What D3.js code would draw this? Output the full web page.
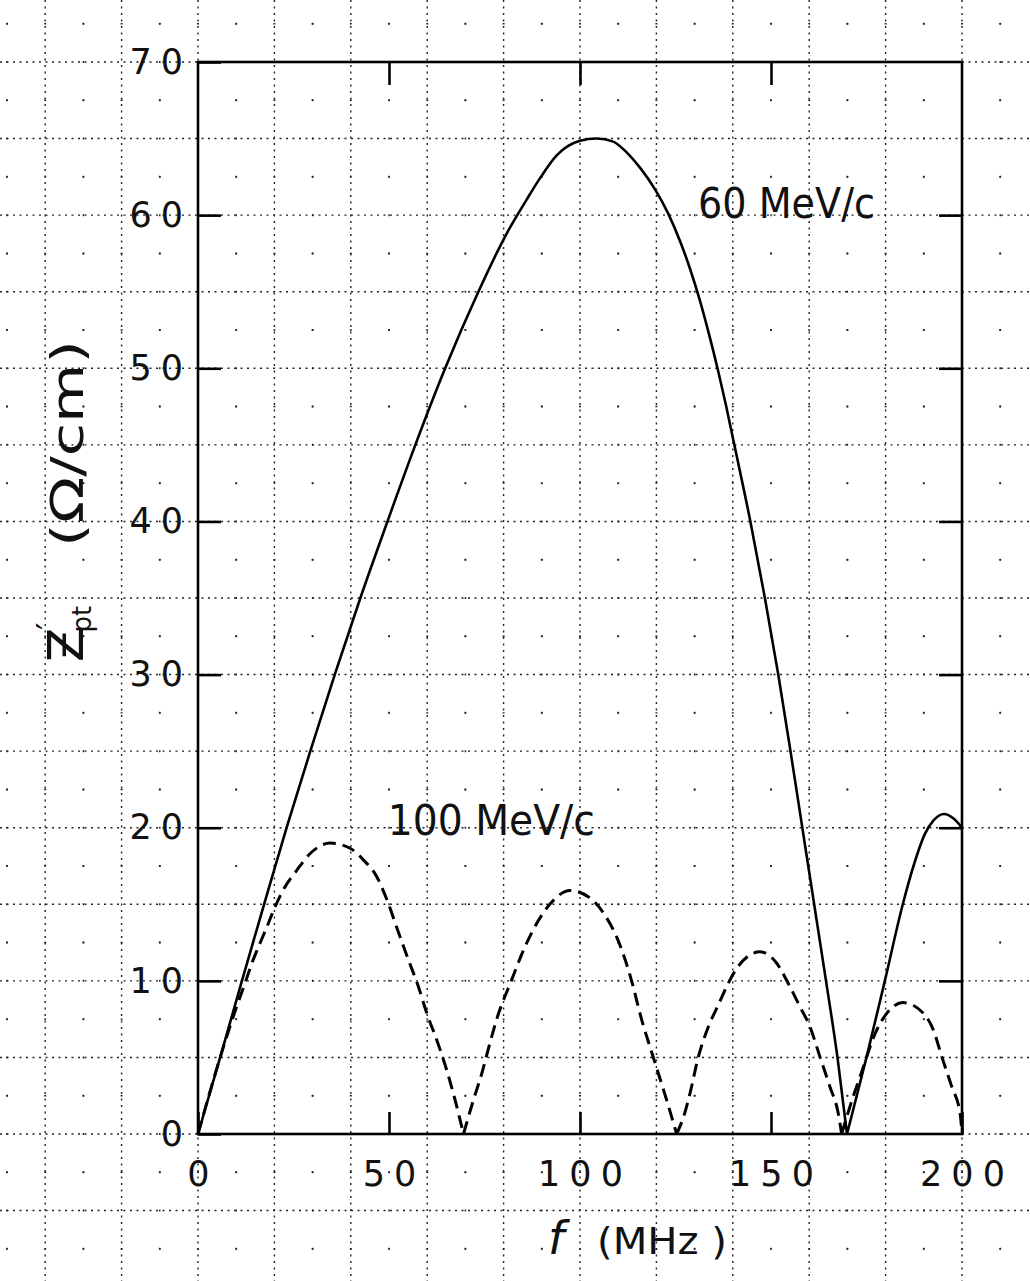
<!DOCTYPE html>
<html>
<head>
<meta charset="utf-8">
<script src="https://cdn.jsdelivr.net/npm/d3@7"></script>
<style>
body { margin: 0; background: #fff; }
svg { display: block; }
text { font-family: "DejaVu Sans", sans-serif; fill: #111; }
</style>
</head>
<body>
<svg id="chart" width="1030" height="1281"></svg>
<script>
// 60 MeV/c  (solid)
var solidFreq = [0, 5.8, 11.5, 17.3, 23.2, 29.4, 35.8, 42.5, 49.6, 56.9, 64.7, 73.4, 80.8, 86, 89.5, 93.9, 100, 104.4,
    108.7, 112.2, 115.7, 119.6, 123.1, 126.2, 128.8, 131.3, 133.7, 136, 138.2, 140.4, 144.6, 148.4, 151.9, 155.1, 158.2, 161.3, 164.4, 167.4, 169.9,
    175, 179.8, 184.5, 187.3, 190.3, 192.6, 195.3, 197.8, 200]
var solidZ = [0, 5, 10, 15, 20, 25, 30, 35, 40, 45, 50, 55, 58.8, 61.0, 62.4, 63.9, 64.85, 65.0,
    64.8, 64.1, 63.1, 61.7, 60.1, 58.3, 56.5, 54.5, 52.3, 50, 47.6, 45, 40, 35, 30, 25, 20, 15, 10, 5, 0,
    5, 10, 15, 17.5, 19.6, 20.5, 20.9, 20.6, 20.0]

// 100 MeV/c  (dashed)
var dashFreq = [0, 5.8, 10.1, 12.3, 14.1, 15.8, 18, 20.2, 22.8, 25.8, 29.3, 34.6, 39.8, 43.3, 46.8, 49.8, 52, 55.1, 57.7, 59.9, 62.5, 65.1, 67.3, 69.5,
    72.1, 74.3, 76.4, 78.2, 82, 86, 92.1, 97.4, 102.4, 106.5, 110.2, 113.4, 116.1, 119.2, 122.7, 125.3,
    127.4, 128.8, 131, 133.6, 136.2, 138.8, 141, 144.5, 147.1, 151.5, 154.5, 157.6, 160.2, 162.8, 165.4, 167.6, 168.5,
    171.5, 173.3, 177.7, 180.3, 184.6, 189.9, 192.5, 194.7, 197.3, 199.5, 200]
var dashZ = [0, 5, 8.3, 9.84, 11.15, 12.2, 13.5, 14.85, 16.15, 17.2, 18.3, 19.0, 18.66, 17.9, 16.8, 15.07, 13.5, 11.36, 9.62, 7.88, 6.14, 4.18, 2.22, 0,
    2.22, 3.96, 5.92, 7.5, 10, 12.45, 15, 15.9, 15.45, 14.3, 12.5, 10.1, 7.5, 5, 2.2, 0,
    1.35, 2.66, 5.05, 7.0, 8.43, 9.84, 10.8, 11.7, 11.9, 11.15, 9.84, 8.3, 7.0, 5.05, 3.1, 1.35, 0,
    2.44, 3.74, 6.8, 7.88, 8.58, 7.88, 6.8, 5.05, 3.1, 1.35, 0]

var xTicks = [0, 50, 100, 150, 200]
var yTicks = [0, 10, 20, 30, 40, 50, 60, 70]
var xInnerTicks = [50, 100, 150]
var yInnerTicks = [10, 20, 30, 40, 50, 60]

var W = 1030, H = 1281
var svg = d3.select('#chart')
svg.append('rect').attr('width', W).attr('height', H).attr('fill', '#fff')

var x = d3.scaleLinear().domain([0, 200]).range([198, 962])
var y = d3.scaleLinear().domain([0, 70]).range([1134, 62])

// graph paper: dotted lines every 20 MHz / 5 units, loose dots half way
var grid = svg.append('g').attr('stroke', '#222').attr('stroke-width', 1.4)
var stepX = x(10) - x(0), stepY = y(0) - y(2.5)
grid.selectAll('.gv').data(d3.range(-40, 201, 20)).join('line')
    .attr('class', 'gv')
    .attr('x1', d => x(d)).attr('x2', d => x(d))
    .attr('y1', 0).attr('y2', H)
    .attr('stroke-dasharray', '2,4.5')
grid.selectAll('.gh').data(d3.range(-5, 71, 5)).join('line')
    .attr('class', 'gh')
    .attr('y1', d => y(d)).attr('y2', d => y(d))
    .attr('x1', 0).attr('x2', W)
    .attr('stroke-dasharray', '2,4.5')
grid.selectAll('.mv').data(d3.range(-50, 220, 20)).join('line')
    .attr('class', 'mv')
    .attr('x1', d => x(d)).attr('x2', d => x(d))
    .attr('y1', y(75) - 1).attr('y2', H)
    .attr('stroke-dasharray', `2,${stepY - 2}`)
grid.selectAll('.mh').data(d3.range(-7.5, 75, 5)).join('line')
    .attr('class', 'mh')
    .attr('y1', d => y(d)).attr('y2', d => y(d))
    .attr('x1', x(-60) - 1).attr('x2', W)
    .attr('stroke-dasharray', `2,${stepX - 2}`)

// frame
svg.append('rect')
    .attr('x', x(0)).attr('y', y(70))
    .attr('width', x(200) - x(0)).attr('height', y(0) - y(70))
    .attr('fill', 'none').attr('stroke', '#000').attr('stroke-width', 2.6)

var labelFont = 35, spacing = 9
function styleAxis(g) {
    g.select('.domain').remove()
    g.selectAll('.tick line').attr('stroke', '#000').attr('stroke-width', 2.6)
    g.selectAll('.tick text')
        .attr('font-size', labelFont)
        .attr('font-family', '"DejaVu Sans", sans-serif')
        .attr('letter-spacing', spacing)
        .attr('fill', '#111')
}
svg.append('g').attr('transform', `translate(${x(0)},0)`)
    .call(d3.axisLeft(y).tickValues(yTicks).tickSizeInner(-23).tickSizeOuter(0).tickPadding(6))
    .call(styleAxis)
svg.append('g').attr('transform', `translate(0,${y(0)})`)
    .call(d3.axisBottom(x).tickValues(xTicks).tickSizeInner(-22).tickSizeOuter(0).tickPadding(27))
    .call(styleAxis)
    .selectAll('.tick text').attr('dx', spacing / 2)
svg.append('g').attr('transform', `translate(${x(200)},0)`)
    .call(d3.axisRight(y).tickValues(yInnerTicks).tickSizeInner(-23).tickSizeOuter(0).tickFormat(''))
    .call(styleAxis)
svg.append('g').attr('transform', `translate(0,${y(70)})`)
    .call(d3.axisTop(x).tickValues(xInnerTicks).tickSizeInner(-23).tickSizeOuter(0).tickFormat(''))
    .call(styleAxis)

// split a series into arches between its zeros so the V bottoms stay sharp
function arches(fs, zs) {
    var out = [], cur = []
    for (let i = 0; i < fs.length; i++) {
        cur.push([fs[i], zs[i]])
        if (zs[i] === 0 && i > 0 && i < fs.length - 1) {
            out.push(cur)
            cur = [[fs[i], zs[i]]]
        }
    }
    out.push(cur)
    return out
}
var line = d3.line()
    .x(d => x(d[0]))
    .y(d => y(d[1]))
    .curve(d3.curveMonotoneX)

svg.append('path')
    .attr('d', arches(solidFreq, solidZ).map(line).join(''))
    .attr('fill', 'none').attr('stroke', '#000').attr('stroke-width', 2.6)
    .attr('stroke-linejoin', 'round')
svg.append('path')
    .attr('d', arches(dashFreq, dashZ).map(line).join(''))
    .attr('fill', 'none').attr('stroke', '#000').attr('stroke-width', 3)
    .attr('stroke-dasharray', '13,7')

// curve labels
svg.append('text').attr('x', x(130.9)).attr('y', y(59.8))
    .attr('font-size', 42).attr('textLength', 177).attr('lengthAdjust', 'spacingAndGlyphs')
    .text('60 MeV/c')
svg.append('text').attr('x', x(49.7)).attr('y', y(19.5))
    .attr('font-size', 42).attr('textLength', 207).attr('lengthAdjust', 'spacingAndGlyphs')
    .text('100 MeV/c')

// x title
svg.append('text').attr('x', 548).attr('y', 1254)
    .attr('font-size', 46).attr('font-style', 'italic')
    .text('f')
svg.append('text').attr('x', 597).attr('y', 1254)
    .attr('font-size', 38).attr('textLength', 130).attr('lengthAdjust', 'spacingAndGlyphs')
    .text('(MHz )')

// y title
var yt = svg.append('g').attr('transform', 'translate(83,662) rotate(-90)')
var zt = yt.append('text').attr('font-size', 50)
zt.append('tspan').text('Ƶ')
zt.append('tspan').attr('font-size', 32).attr('dx', -2).attr('dy', -24).text('′')
zt.append('tspan').attr('font-size', 26).attr('dx', -10).attr('dy', 32).text('pt')
yt.append('text').attr('x', 115).attr('font-size', 44)
    .attr('textLength', 207).attr('lengthAdjust', 'spacingAndGlyphs')
    .text('(Ω/cm)')
</script>
</body>
</html>
